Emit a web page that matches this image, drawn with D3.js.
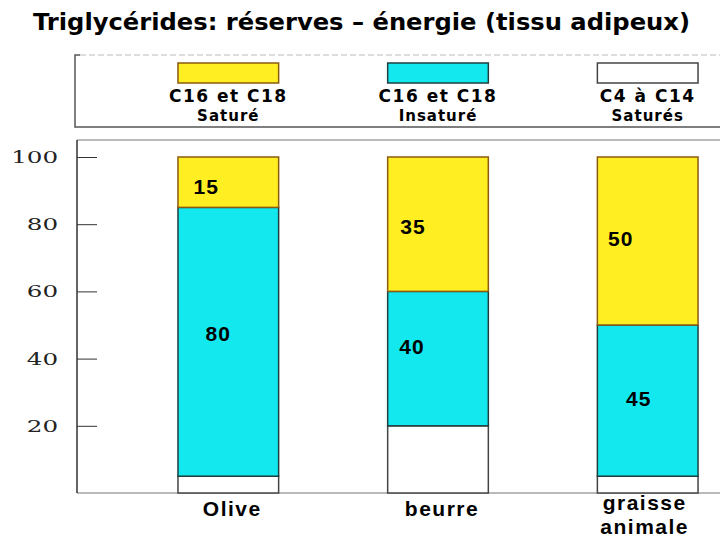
<!DOCTYPE html>
<html>
<head>
<meta charset="utf-8">
<title>Triglycérides</title>
<script src="https://d3js.org/d3.v7.min.js"></script>
<style>
  body { margin: 0; background: #fff; }
</style>
</head>
<body>
<div id="chart"></div>
<script>
// data
let categories = ["Olive", "beurre", "graisse animale"];
let sature = [15, 40, 50];      // C16 et C18 saturé (yellow, top)
let insature = [80, 40, 45];    // C16 et C18 insaturé (cyan)
let courts = [5, 20, 5];        // C4 à C14 saturés (white, bottom)
let satLabels = ["15", "35", "50"];
let insatLabels = ["80", "40", "45"];
let yTicks = [20, 40, 60, 80, 100];
let legendLabels = [["C16 et C18", "Saturé"], ["C16 et C18", "Insaturé"], ["C4 à C14", "Saturés"]];

let W = 720, H = 540;
let comic = "'Comic Sans MS', 'DejaVu Sans', sans-serif";

let svg = d3.select("#chart").append("svg")
    .attr("width", W).attr("height", H);

svg.append("text")
    .attr("x", 33).attr("y", 30)
    .attr("font-family", comic).attr("font-weight", "bold")
    .attr("font-size", 23)
    .attr("textLength", 657).attr("lengthAdjust", "spacingAndGlyphs")
    .text("Triglycérides: réserves – énergie (tissu adipeux)");

let x = d3.scaleBand().domain(categories).range([157, 719])
    .paddingInner(0.52).paddingOuter(0.1);
let y = d3.scaleLinear().domain([0, 100]).range([493, 157]);

let colors = { courts: "#ffffff", insat: "#12e8ee", sat: "#ffee22" };
let strokes = { courts: "#444", insat: "#1f3f3f", sat: "#8a5a10" };

// legend
let leg = svg.append("g");
leg.append("path").attr("d", "M80,55H75V127H720")
    .attr("fill", "none").attr("stroke", "#555").attr("stroke-width", 1.5);
leg.append("line").attr("x1", 80).attr("x2", 720).attr("y1", 55).attr("y2", 55)
    .attr("stroke", "#bbb").attr("stroke-dasharray", "6,3");
let legKeys = ["sat", "insat", "courts"];
legKeys.forEach(function(k, i) {
    let cx = x(categories[i]) + x.bandwidth() / 2;
    leg.append("rect")
        .attr("x", x(categories[i])).attr("y", 63)
        .attr("width", x.bandwidth()).attr("height", 20)
        .attr("fill", colors[k]).attr("stroke", strokes[k]).attr("stroke-width", 1.5);
    leg.append("text").attr("x", cx).attr("y", 102)
        .attr("text-anchor", "middle").attr("font-family", comic)
        .attr("font-weight", "bold").attr("font-size", 17)
        .attr("letter-spacing", 1.5)
        .text(legendLabels[i][0]);
    leg.append("text").attr("x", cx).attr("y", 121)
        .attr("text-anchor", "middle").attr("font-family", comic)
        .attr("font-weight", "bold").attr("font-size", 15)
        .attr("letter-spacing", 1)
        .text(legendLabels[i][1]);
});

// frame
svg.append("line").attr("x1", 77).attr("x2", 720).attr("y1", 140).attr("y2", 140)
    .attr("stroke", "#777").attr("stroke-width", 1);
svg.append("line").attr("x1", 77).attr("x2", 720).attr("y1", y(0)).attr("y2", y(0))
    .attr("stroke", "#777").attr("stroke-width", 1.2);
svg.append("line").attr("x1", 77).attr("x2", 77).attr("y1", 140).attr("y2", y(0))
    .attr("stroke", "#333").attr("stroke-width", 1.5);

// axis
let yAxis = d3.axisLeft(y).tickValues(yTicks)
    .tickSizeInner(-20).tickSizeOuter(0).tickPadding(19);
let ag = svg.append("g").attr("transform", "translate(77,0)").call(yAxis);
ag.select(".domain").remove();
ag.selectAll(".tick line").attr("stroke", "#333");
ag.selectAll(".tick text")
    .attr("font-family", "'DejaVu Serif', serif").attr("font-size", 17)
    .attr("fill", "#222")
    .attr("x", -13)
    .attr("transform", "scale(1.45,1)");

// stacked bars
let table = categories.map(function(c, i) {
    return { cat: c, courts: courts[i], insat: insature[i], sat: sature[i] };
});
let series = d3.stack().keys(["courts", "insat", "sat"])(table);

svg.append("g").selectAll("g").data(series).join("g")
    .attr("fill", function(s) { return colors[s.key]; })
    .attr("stroke", function(s) { return strokes[s.key]; })
    .attr("stroke-width", 1.5)
    .selectAll("rect").data(function(s) { return s; }).join("rect")
    .attr("x", function(d) { return x(d.data.cat); })
    .attr("y", function(d) { return y(d[1]); })
    .attr("width", x.bandwidth())
    .attr("height", function(d) { return y(d[0]) - y(d[1]); });

// value labels (nudges from bar centre / segment middle)
let nudge = {
    sat: [[-22, 4], [-25, 2], [-27, -2]],
    insat: [[-10, -8], [-26, -12], [-9, -2]]
};
["insat", "sat"].forEach(function(k) {
    let s = series.find(function(e) { return e.key === k; });
    let labs = k === "sat" ? satLabels : insatLabels;
    s.forEach(function(d, i) {
        svg.append("text")
            .attr("x", x(d.data.cat) + x.bandwidth() / 2 + nudge[k][i][0])
            .attr("y", (y(d[0]) + y(d[1])) / 2 + nudge[k][i][1])
            .attr("dy", "0.35em")
            .attr("text-anchor", "middle")
            .attr("font-family", "'Liberation Sans', Arial, sans-serif")
            .attr("font-weight", "bold").attr("font-size", 21)
            .attr("letter-spacing", 1)
            .text(labs[i]);
    });
});

// category labels
categories.forEach(function(c) {
    let cx = x(c) + x.bandwidth() / 2;
    let words = c === "graisse animale" ? ["graisse", "animale"] : [c];
    let t = svg.append("text")
        .attr("text-anchor", "middle")
        .attr("font-family", "'Liberation Sans', Arial, sans-serif")
        .attr("font-weight", "bold").attr("font-size", 21)
        .attr("letter-spacing", 1.5);
    words.forEach(function(w, j) {
        t.append("tspan").attr("x", cx + (words.length > 1 ? -3 : 4))
            .attr("y", words.length > 1 ? 510 + j * 24 : 516)
            .text(w);
    });
});
</script>
</body>
</html>
